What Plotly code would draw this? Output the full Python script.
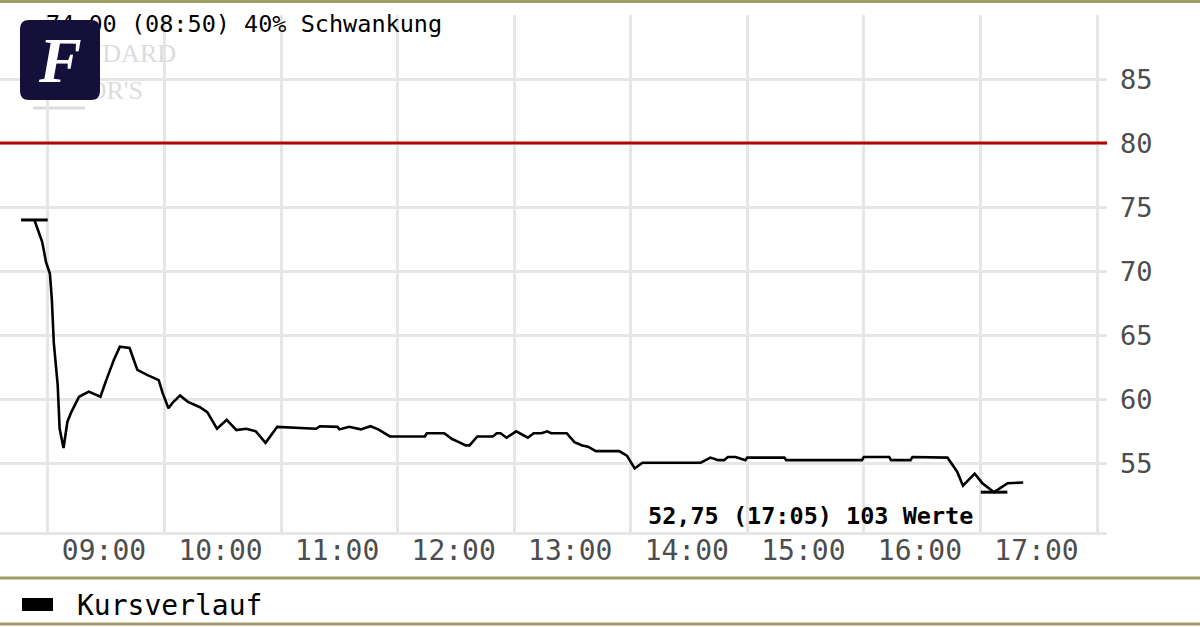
"""Intraday price chart: Kursverlauf with 80 reference line, FAZ-style frame."""

import plotly.graph_objects as go

DAY = "2024-01-01 "

times = [
    "08:53", "08:57", "08:59", "09:01", "09:02", "09:03", "09:05", "09:06", "09:08", "09:10",
    "09:12", "09:16", "09:21", "09:27", "09:30", "09:34", "09:37", "09:42", "09:46", "09:51",
    "09:57", "09:59", "10:02", "10:04", "10:08", "10:12", "10:18", "10:22", "10:27", "10:32",
    "10:37", "10:42", "10:47", "10:52", "10:58", "11:18", "11:20", "11:29", "11:30", "11:35",
    "11:41", "11:46", "11:50", "11:56", "12:14", "12:15", "12:24", "12:28", "12:31", "12:35",
    "12:37", "12:41", "12:49", "12:51", "12:53", "12:56", "13:01", "13:07", "13:10", "13:14",
    "13:17", "13:19", "13:27", "13:31", "13:35", "13:38", "13:42", "13:54", "13:58", "14:02",
    "14:06", "14:36", "14:41", "14:45", "14:48", "14:50", "14:54", "14:59", "15:00", "15:19",
    "15:20", "15:59", "16:00", "16:13", "16:14", "16:24", "16:25", "16:43", "16:48", "16:51",
    "16:57", "17:01", "17:07", "17:14", "17:22",
]
prices = [
    74.0, 72.3, 70.7, 69.8, 67.75, 64.4, 61.1, 57.7, 56.2, 58.25,
    59.0, 60.2, 60.6, 60.2, 61.5, 63.1, 64.1, 64.0, 62.3, 61.9,
    61.5, 60.5, 59.3, 59.7, 60.3, 59.8, 59.4, 59.0, 57.7, 58.4,
    57.6, 57.7, 57.5, 56.6, 57.85, 57.7, 57.9, 57.85, 57.65, 57.85,
    57.65, 57.9, 57.65, 57.1, 57.1, 57.35, 57.35, 56.9, 56.7, 56.4,
    56.4, 57.1, 57.1, 57.35, 57.35, 57.0, 57.5, 57.0, 57.35, 57.35,
    57.5, 57.35, 57.35, 56.65, 56.4, 56.3, 55.95, 55.95, 55.6, 54.6,
    55.05, 55.05, 55.45, 55.25, 55.25, 55.5, 55.5, 55.25, 55.45, 55.45,
    55.25, 55.25, 55.5, 55.5, 55.25, 55.25, 55.5, 55.45, 54.35, 53.25,
    54.2, 53.45, 52.75, 53.45, 53.5,
]

extreme_times = ["08:53", "17:07"]
extreme_prices = [74.0, 52.75]

hour_ticks = ["09:00", "10:00", "11:00", "12:00", "13:00", "14:00", "15:00", "16:00", "17:00", "18:00"]
hour_labels = ["09:00", "10:00", "11:00", "12:00", "13:00", "14:00", "15:00", "16:00", "17:00", ""]
y_ticks = [55, 60, 65, 70, 75, 80, 85]
limit_level = 80

header_text = "74,00 (08:50) 40% Schwankung"
footer_text = "52,75 (17:05) 103 Werte"
legend_text = "Kursverlauf"

# plot box in page pixels
L, R, T, B = 0, 1107, 15, 532
W, H = 1200, 627


def pxx(x):
    return (x - L) / (R - L)


def pxy(y):
    return (B - y) / (B - T)


def rounded_rect(x0, y0, x1, y1, r):
    a, b, c, d = pxx(x0), pxy(y0), pxx(x1), pxy(y1)
    rx, ry = r / (R - L), r / (B - T)
    return (
        f"M {a + rx},{b} L {c - rx},{b} Q {c},{b} {c},{b - ry} "
        f"L {c},{d + ry} Q {c},{d} {c - rx},{d} L {a + rx},{d} "
        f"Q {a},{d} {a},{d + ry} L {a},{b - ry} Q {a},{b} {a + rx},{b} Z"
    )


MONO = "DejaVu Sans Mono"
OLIVE = "#a09d66"
GRID = "#e6e6e6"
WATER = "#dcdcdc"

fig = go.Figure()

fig.add_trace(go.Scatter(
    x=[DAY + t for t in times], y=prices, mode="lines",
    line=dict(color="black", width=2.6), name=legend_text, hoverinfo="x+y",
))
fig.add_trace(go.Scatter(
    x=[DAY + t for t in extreme_times], y=extreme_prices, mode="markers",
    marker=dict(symbol="line-ew", size=19, line=dict(color="black", width=3)),
    showlegend=False, hoverinfo="skip",
))

# header + faint watermark on a pixel overlay axis so the logo can sit on top
fig.add_trace(go.Scatter(
    x=[176, 143], y=[55, 92], xaxis="x2", yaxis="y2", mode="text",
    text=["STANDARD", "&amp; POOR'S"], textposition="middle left",
    textfont=dict(family="Liberation Serif", size=26, color=WATER),
    showlegend=False, hoverinfo="skip", cliponaxis=False,
))
fig.add_trace(go.Scatter(
    x=[46], y=[26], xaxis="x2", yaxis="y2", mode="text",
    text=[header_text], textposition="middle right",
    textfont=dict(family=MONO, size=23.5, color="black"),
    showlegend=False, hoverinfo="skip", cliponaxis=False,
))

fig.add_hline(y=limit_level, line=dict(color="#b30000", width=3), layer="above")

shapes = [
    dict(type="line", xref="paper", yref="paper", x0=0, x1=pxx(W), y0=pxy(y), y1=pxy(y),
         line=dict(color=OLIVE, width=3))
    for y in (1.5, 578, 624)
]
shapes.append(dict(type="line", xref="paper", yref="paper", x0=pxx(33), x1=pxx(85),
                   y0=pxy(108), y1=pxy(108), line=dict(color=WATER, width=3), layer="below"))
shapes.append(dict(type="path", xref="paper", yref="paper", path=rounded_rect(20, 20, 100, 100, 9),
                   fillcolor="#15103a", line=dict(width=0), layer="above"))
shapes.append(dict(type="rect", xref="paper", yref="paper", x0=pxx(22), x1=pxx(53),
                   y0=pxy(611), y1=pxy(598), fillcolor="black", line=dict(width=0)))
for s in shapes:
    fig.add_shape(**s)

fig.add_annotation(x=pxx(60), y=pxy(61), xref="paper", yref="paper", text="<b><i>F</i></b>",
                   xanchor="center", yanchor="middle", showarrow=False,
                   font=dict(family="Liberation Serif", size=64, color="white"))
fig.add_annotation(x=pxx(646), y=pxy(516), xref="paper", yref="paper", text=f"<b>{footer_text}</b>",
                   xanchor="left", yanchor="middle", showarrow=False,
                   font=dict(family=MONO, size=23.5, color="black"))
fig.add_annotation(x=pxx(75), y=pxy(605), xref="paper", yref="paper", text=legend_text,
                   xanchor="left", yanchor="middle", showarrow=False,
                   font=dict(family=MONO, size=28, color="black"))

fig.update_layout(
    width=W, height=H,
    margin=dict(l=L, r=W - R, t=T, b=H - B),
    paper_bgcolor="white", plot_bgcolor="white",
    showlegend=False,
    xaxis=dict(
        type="date", range=[DAY + "08:35:18", DAY + "18:05:08"],
        tickvals=[DAY + t for t in hour_ticks], ticktext=hour_labels, ticklabelshift=56,
        showgrid=True, gridcolor=GRID, gridwidth=2.5, showline=True, linecolor=GRID, linewidth=3,
        ticks="", ticklabelstandoff=-9,
        tickfont=dict(family=MONO, size=28, color="#4d4d4d"), zeroline=False,
    ),
    yaxis=dict(
        range=[49.64, 90], side="right", tickvals=y_ticks, showgrid=True, gridcolor=GRID,
        gridwidth=2.5, zeroline=False, ticks="", ticklabelstandoff=12,
        tickfont=dict(family=MONO, size=27, color="#4d4d4d"),
    ),
    xaxis2=dict(range=[L, R], overlaying="x", visible=False),
    yaxis2=dict(range=[B, T], overlaying="y", visible=False),
)

fig.write_html("out.html", config={"displayModeBar": False},
               post_script="document.body.style.margin='0';")
